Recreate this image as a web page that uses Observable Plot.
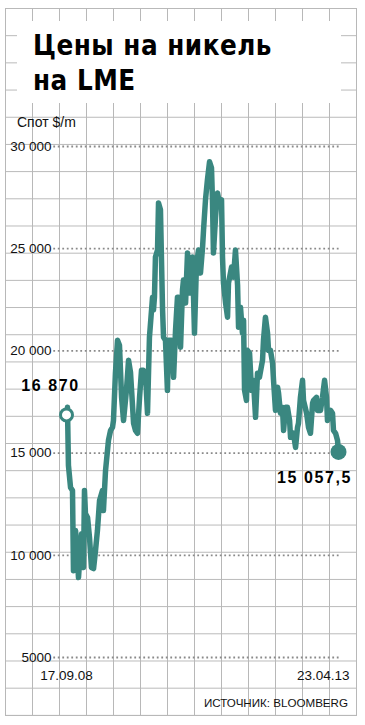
<!DOCTYPE html>
<html><head><meta charset="utf-8">
<script src="https://cdn.jsdelivr.net/npm/d3@7"></script>
<script src="https://cdn.jsdelivr.net/npm/@observablehq/plot@0.6"></script>
<style>
html,body{margin:0;padding:0;background:#fff;}
#page{position:relative;width:365px;height:725px;overflow:hidden;background:#fff;font-family:"Liberation Sans",Arial,sans-serif;color:#111;}
#grid{position:absolute;left:5px;top:8px;width:351px;height:707px;border-right:1px solid #b8b8b8;border-bottom:1px solid #b8b8b8;
 background-image:linear-gradient(to right,#b8b8b8 1px,transparent 1px),linear-gradient(to bottom,#b8b8b8 1px,transparent 1px);
 background-size:27px 27.2px;}
#titlebox{position:absolute;left:17px;top:21px;width:324px;height:82px;background:#fff;}
#title{position:absolute;left:33px;top:28px;font-family:"DejaVu Sans Condensed","DejaVu Sans",sans-serif;font-stretch:condensed;font-weight:bold;font-size:27.5px;line-height:35px;color:#000;letter-spacing:0.5px;white-space:nowrap;}
#unit{position:absolute;left:17px;top:115px;font-size:14px;line-height:14px;white-space:nowrap;}
#chart{position:absolute;left:0;top:130px;}
#source{position:absolute;right:17px;top:697px;font-family:"Liberation Sans Narrow","Liberation Sans",sans-serif;font-size:11.6px;line-height:12px;white-space:nowrap;}
</style></head>
<body>
<div id="page">
  <div id="grid"></div>
  <div id="titlebox"></div>
  <div id="title">Цены на никель<br>на LME</div>
  <div id="unit">Спот $/m</div>
  <div id="chart"></div>
  <div id="source">ИСТОЧНИК: BLOOMBERG</div>
</div>
<script>
// LME nickel spot price, $/t
const dates = [
"2008-09-17","2008-09-23","2008-09-29","2008-10-12","2008-10-24","2008-10-30","2008-11-12","2008-11-24","2008-11-30","2008-12-19",
"2008-12-31","2009-01-06","2009-01-12","2009-01-25","2009-02-06","2009-02-18","2009-03-03","2009-03-15","2009-03-27","2009-04-09",
"2009-04-27","2009-05-03","2009-05-16","2009-06-03","2009-06-16","2009-06-28","2009-07-04","2009-07-16","2009-07-29","2009-08-10",
"2009-08-23","2009-09-04","2009-09-22","2009-10-05","2009-10-17","2009-11-05","2009-11-17","2009-11-29","2009-12-12","2009-12-24",
"2010-01-05","2010-01-18","2010-01-30","2010-02-11","2010-03-02","2010-03-08","2010-03-14","2010-03-20","2010-04-02","2010-04-08",
"2010-04-20","2010-04-26","2010-05-03","2010-05-09","2010-05-21","2010-06-02","2010-06-09","2010-06-27","2010-07-10","2010-07-22",
"2010-08-03","2010-08-09","2010-08-22","2010-09-03","2010-09-09","2010-09-22","2010-10-04","2010-10-10","2010-10-22","2010-11-04",
"2010-11-16","2010-11-28","2010-12-11","2010-12-23","2011-01-05","2011-01-11","2011-01-23","2011-02-04","2011-02-17","2011-03-01",
"2011-03-07","2011-03-13","2011-03-26","2011-04-07","2011-04-19","2011-05-02","2011-05-08","2011-05-14","2011-05-27","2011-06-08",
"2011-06-14","2011-07-03","2011-07-15","2011-07-27","2011-08-09","2011-08-15","2011-08-27","2011-09-08","2011-09-15","2011-09-21",
"2011-10-03","2011-10-09","2011-10-22","2011-11-03","2011-11-15","2011-11-28","2011-12-10","2011-12-22","2012-01-10","2012-01-16",
"2012-01-28","2012-02-10","2012-02-16","2012-02-28","2012-03-12","2012-03-18","2012-03-30","2012-04-12","2012-04-18","2012-04-30",
"2012-05-12","2012-05-19","2012-05-31","2012-06-12","2012-06-25","2012-07-01","2012-07-19","2012-08-01","2012-08-13","2012-08-19",
"2012-08-31","2012-09-13","2012-09-19","2012-10-08","2012-10-20","2012-11-01","2012-11-14","2012-11-20","2012-12-08","2012-12-14",
"2013-01-02","2013-01-14","2013-01-27","2013-02-08","2013-02-14","2013-03-05","2013-03-17","2013-03-23","2013-04-05","2013-04-17",
"2013-04-23"];
const prices = [
16870,17240,14400,13320,13170,9250,11210,9740,8910,11060,
9400,13170,12040,11850,10870,9400,9350,10230,11210,12680,
13170,12190,14150,15620,16110,16260,16600,18910,20520,20280,
17730,16600,18070,19540,18960,16460,16110,15970,17730,19050,
19050,18810,16950,20670,22630,22000,22630,24590,24940,27240,
26900,24590,22000,20670,20520,18070,20520,20520,18710,21010,
22630,22630,20180,22980,23470,22340,24790,23960,22830,24590,
20870,24200,24940,23810,25080,25920,27390,28370,29250,28960,
27390,24790,26550,27730,27240,27390,24590,23320,22340,21650,
23320,24100,23610,24940,23220,21160,22140,20870,21500,18070,
17580,20030,19890,18070,18560,16750,18910,18710,19540,20520,
21650,20870,20030,20030,19400,18560,17090,18220,17930,16950,
17240,16110,17240,17240,16600,15770,15970,15280,16260,16460,
17730,18560,17580,16950,16260,15970,17440,17580,17730,17090,
17090,17730,18560,17730,16600,17090,16950,16110,15970,15620,
15057.5];

const yTicks = [5000, 10000, 15000, 20000, 25000, 30000];
const yTickLabels = ["5000", "10 000", "15 000", "20 000", "25 000", "30 000"];
const xTickDates = ["2008-09-17", "2013-04-23"];
const xTickLabels = ["17.09.08", "23.04.13"];

const teal = "#3a8780";
const ru = d3.formatLocale({decimal: ",", thousands: " ", grouping: [3], currency: ["", "$"]}).format(",");

const data = dates.map((d, i) => ({date: new Date(d), value: prices[i]}));
const first = data[0], last = data[data.length - 1];
const xStart = new Date(xTickDates[0]), xEnd = new Date(xTickDates[1]);

const chart = Plot.plot({
  width: 365,
  height: 560,
  marginTop: 16,
  marginBottom: 33,
  marginLeft: 66,
  marginRight: 27,
  style: {background: "none", overflow: "visible", fontFamily: "'Liberation Sans', Arial, sans-serif", fontSize: "13px", color: "#111"},
  x: {type: "utc", domain: [xStart, xEnd]},
  y: {domain: [5000, 30000]},
  marks: [
    Plot.ruleY(yTicks, {stroke: "#8a8a8a", strokeWidth: 1.8, strokeDasharray: "1.8 2.7", insetLeft: -12.7, insetRight: -2}),
    Plot.axisY({ticks: yTicks, tickFormat: d => yTickLabels[yTicks.indexOf(d)], tickSize: 0, tickPadding: 15, label: null, fontSize: 13.5}),
    Plot.axisX({ticks: [xStart], tickFormat: () => xTickLabels[0], tickSize: 0, tickPadding: 13, label: null, fontSize: 13.5}),
    Plot.axisX({ticks: [xEnd], tickFormat: () => xTickLabels[1], tickSize: 0, tickPadding: 13, label: null, fontSize: 13.5, textAnchor: "end", dx: 11}),
    Plot.line(data, {x: "date", y: "value", stroke: teal, strokeWidth: 5.5, strokeLinejoin: "round", strokeLinecap: "round"}),
    Plot.dot([first], {x: "date", y: "value", r: 6, fill: "white", stroke: teal, strokeWidth: 3}),
    Plot.dot([last], {x: "date", y: "value", r: 8, fill: teal}),
    Plot.text([first], {x: "date", y: "value", text: d => ru(d.value), dx: -16, dy: -29.5, fontSize: 16, fontWeight: "bold", fill: "#000"}),
    Plot.text([last], {x: "date", y: "value", text: d => ru(d.value), dx: -24, dy: 26, fontSize: 16, fontWeight: "bold", fill: "#000"})
  ]
});
const svg = d3.select(chart);
svg.selectAll('g[font-weight="bold"]').attr("letter-spacing", 1.6);
svg.selectAll('g[aria-label$="tick label"]').attr("font-size", 13.5).attr("fill", "#111");
document.getElementById("chart").appendChild(chart);
</script>
</body></html>
